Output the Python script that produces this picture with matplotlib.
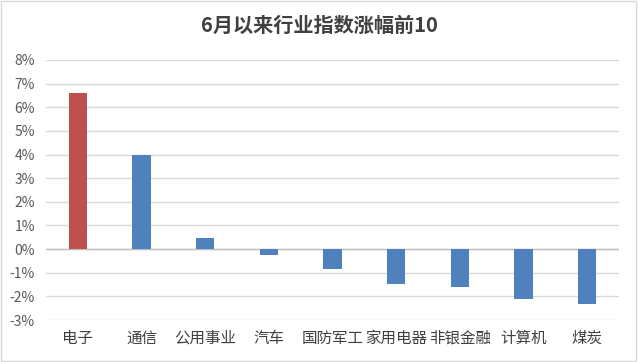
import matplotlib.pyplot as plt
from matplotlib.patches import Rectangle

plt.rcParams['font.family'] = ['Noto Sans CJK SC', 'DejaVu Sans']

categories = ["电子", "通信", "公用事业", "汽车", "国防军工", "家用电器", "非银金融", "计算机", "煤炭"]
values = [6.6, 4.0, 0.48, -0.27, -0.83, -1.47, -1.6, -2.1, -2.32]
colors = ["#c0504d"] + ["#4f81bd"] * 8
yticks = list(range(-3, 9))

fig = plt.figure(figsize=(6.38, 3.62), dpi=100)
ax = fig.add_axes([46 / 638, 42 / 362, 573 / 638, 260 / 362])

x = range(len(categories))
ax.bar(x, values, width=0.29, color=colors, zorder=3)

ax.set_xlim(-0.5, len(categories) - 0.5)
ax.set_ylim(-3, 8)
ax.set_yticks(yticks)
ax.set_yticklabels([f"{t}%" for t in yticks], color="#595959", fontsize=10)
ax.set_xticks(list(x))
ax.set_xticklabels(categories, color="#404040", fontsize=11.2)
ax.tick_params(axis="y", length=0, pad=8)
ax.tick_params(axis="x", length=0, pad=7)
ax.grid(axis="y", color="#d9d9d9", linewidth=1, zorder=0)
ax.axhline(0, color="#bfbfbf", linewidth=1, zorder=2)
for s in ax.spines.values():
    s.set_visible(False)

fig.text(0.5, 0.93, "6月以来行业指数涨幅前10", ha="center", va="center",
         fontsize=14.5, fontweight="bold", color="#404040")
fig.patches.append(Rectangle((0.002, 0.003), 0.995, 0.993, transform=fig.transFigure,
                             fill=False, edgecolor="#d9d9d9", linewidth=1))

fig.savefig("out.png", dpi=100)
